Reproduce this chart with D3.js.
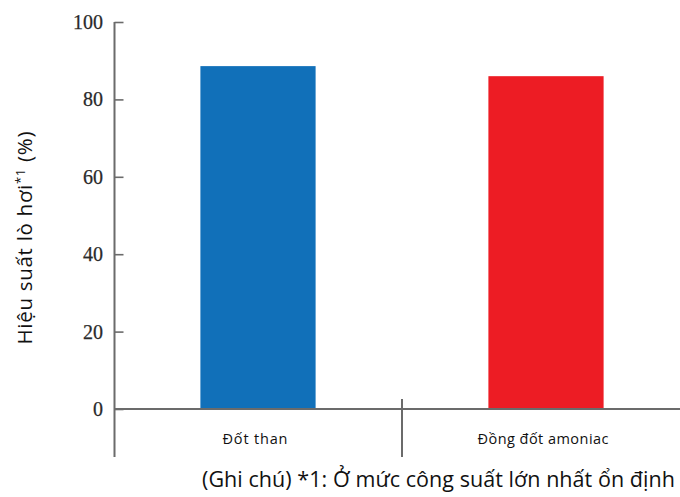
<!DOCTYPE html>
<html>
<head>
<meta charset="utf-8">
<script src="https://cdn.jsdelivr.net/npm/d3@7"></script>
<style>
  html, body { margin: 0; padding: 0; background: #fff; }
  svg { display: block; }
</style>
</head>
<body>
<svg id="chart" width="680" height="497"></svg>
<script>
// Boiler efficiency by combustion mode
const categories = ["Đốt than", "Đồng đốt amoniac"];
const efficiency = [88.6, 86.0];
const barColors = ["#1170b9", "#ed1c24"];
const yTicks = [0, 20, 40, 60, 80, 100];
const labelWidths = [65, 131];

const svg = d3.select("#chart");
const axisColor = "#6b6b6b";
const sans = "'Open Sans', sans-serif";

const x = d3.scaleBand().domain(categories).range([114, 690]);
const y = d3.scaleLinear().domain([0, 100]).range([409, 22]);

// Bars
const barFrac = 0.4;
svg.append("g").selectAll("rect")
  .data(categories)
  .join("rect")
  .attr("x", d => x(d) + x.bandwidth() * (1 - barFrac) / 2)
  .attr("width", x.bandwidth() * barFrac)
  .attr("y", (d, i) => y(efficiency[i]))
  .attr("height", (d, i) => y(0) - y(efficiency[i]))
  .attr("fill", (d, i) => barColors[i]);

// Y axis with inward ticks
const yAxis = d3.axisRight(y).tickValues(yTicks).tickSize(9).tickFormat("");
const gy = svg.append("g").attr("transform", "translate(114.5,0)").call(yAxis);
gy.select(".domain").remove();
gy.selectAll(".tick line").attr("stroke", axisColor).attr("stroke-width", 1.6);

svg.append("line")
  .attr("x1", 114.5).attr("x2", 114.5)
  .attr("y1", y(100)).attr("y2", 457)
  .attr("stroke", axisColor).attr("stroke-width", 2);

// Tick labels
svg.append("g").selectAll("text")
  .data(yTicks)
  .join("text")
  .attr("x", 103)
  .attr("y", d => y(d))
  .attr("dy", "0.35em")
  .attr("text-anchor", "end")
  .attr("font-family", "'Liberation Serif', 'DejaVu Serif', serif")
  .attr("font-size", 20)
  .attr("fill", "#2a2a2a")
  .attr("stroke", "#2a2a2a")
  .attr("stroke-width", 0.25)
  .text(d => d);

// X axis baseline
svg.append("line")
  .attr("x1", 114.5).attr("x2", 680)
  .attr("y1", y(0)).attr("y2", y(0))
  .attr("stroke", axisColor).attr("stroke-width", 2);

// Category divider
svg.append("line")
  .attr("x1", x(categories[1])).attr("x2", x(categories[1]))
  .attr("y1", 399).attr("y2", 457)
  .attr("stroke", axisColor).attr("stroke-width", 2);

// Category labels
svg.append("g").selectAll("text")
  .data(categories)
  .join("text")
  .attr("x", d => x(d) + x.bandwidth() / 2 - 3)
  .attr("y", 444)
  .attr("text-anchor", "middle")
  .attr("font-family", sans)
  .attr("font-size", 14.5)
  .attr("fill", "#111")
  .attr("textLength", (d, i) => labelWidths[i])
  .attr("lengthAdjust", "spacing")
  .text(d => d);

// Y axis title with superscript
const yTitle = svg.append("text")
  .attr("transform", "translate(32,238) rotate(-90)")
  .attr("text-anchor", "middle")
  .attr("font-family", sans)
  .attr("font-size", 20.5)
  .attr("fill", "#111")
  .attr("textLength", 213)
  .attr("lengthAdjust", "spacing");
yTitle.append("tspan").text("Hiệu suất lò hơi");
yTitle.append("tspan").attr("dy", -7).attr("font-size", 13).text("*1");
yTitle.append("tspan").attr("dy", 7).text(" (%)");

// Footnote
svg.append("text")
  .attr("x", 438.5)
  .attr("y", 487)
  .attr("text-anchor", "middle")
  .attr("font-family", sans)
  .attr("font-size", 21.5)
  .attr("fill", "#111")
  .attr("textLength", 473)
  .attr("lengthAdjust", "spacing")
  .text("(Ghi chú) *1: Ở mức công suất lớn nhất ổn định");
</script>
</body>
</html>
